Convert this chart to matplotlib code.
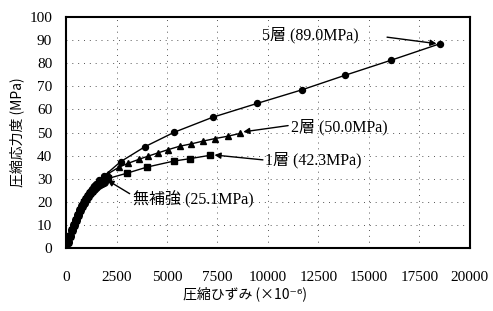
import matplotlib
matplotlib.use("Agg")
import matplotlib.pyplot as plt

plt.rcParams['font.family'] = ['Liberation Serif', 'Noto Sans CJK JP', 'DejaVu Serif']

# 無補強 (dense low-strain part)
plain_x = [0, 100, 200, 300, 400, 500, 600, 700, 800, 900, 1000, 1100, 1200, 1300,
           1400, 1500, 1600, 1700, 1800, 1900]
plain_y = [0, 2.7, 5.3, 7.8, 10.1, 12.3, 14.5, 16.4, 18.1, 19.7, 21.2, 22.5, 23.7, 24.8,
           25.8, 26.6, 27.3, 27.9, 28.4, 28.8]

# 1層
one_x = [0, 100, 200, 300, 400, 500, 600, 700, 800, 900, 1000, 1100, 1200, 1300,
         1400, 1500, 1600, 1800, 2100, 3000, 4020, 5350, 6120, 7150]
one_y = [0, 2.7, 5.3, 7.8, 10.1, 12.3, 14.5, 16.5, 18.2, 19.8, 21.3, 22.6, 23.8, 24.9,
         25.9, 26.8, 27.5, 28.8, 30.2, 32.4, 35.1, 37.7, 38.7, 40.2]

# 2層
two_x = [0, 100, 200, 300, 400, 500, 600, 700, 800, 900, 1000, 1100, 1200, 1300,
         1400, 1500, 1600, 1800, 2100, 2610, 3070, 3600, 4060, 4550, 5050, 5630,
         6200, 6780, 7380, 8000, 8610]
two_y = [0, 2.8, 5.4, 7.9, 10.2, 12.4, 14.6, 16.6, 18.4, 20.0, 21.5, 22.8, 24.1, 25.3,
         26.4, 27.4, 28.3, 30.0, 32.3, 35.0, 36.7, 38.4, 39.8, 41.2, 42.6, 44.1,
         45.1, 46.3, 47.4, 48.4, 49.6]

# 5層
five_x = [0, 100, 200, 300, 400, 500, 600, 700, 800, 900, 1000, 1100, 1200, 1300,
          1400, 1500, 1650, 1900, 2700, 3910, 5350, 7260, 9470, 11700, 13840, 16120, 18500]
five_y = [0, 2.8, 5.5, 8.0, 10.3, 12.6, 14.8, 16.8, 18.6, 20.3, 21.8, 23.2, 24.5, 25.7,
          26.8, 27.9, 29.4, 31.4, 37.4, 43.9, 50.1, 56.6, 62.6, 68.5, 74.8, 81.3, 88.3]

labels = ["5層 (89.0MPa)", "2層 (50.0MPa)", "1層 (42.3MPa)", "無補強 (25.1MPa)"]
label_xy = [(9700, 92.0), (11150, 52.3), (9850, 38.0), (3300, 21.0)]
arrow_tail = [(15900, 91.2), (11000, 53.0), (9750, 38.2), (3150, 23.6)]
arrow_head = [(18350, 88.4), (8780, 50.3), (7350, 40.3), (2050, 29.4)]

fig = plt.figure(figsize=(4.93, 3.11), dpi=100)
ax = fig.add_axes([0.134, 0.2016, 0.819, 0.7444])

ax.plot(plain_x, plain_y, color="black", lw=1.0, marker="o", ms=5.5)
ax.plot(one_x, one_y, color="black", lw=1.0, marker="s", ms=4.3)
ax.plot(two_x, two_y, color="black", lw=1.0, marker="^", ms=4.8)
ax.plot(five_x, five_y, color="black", lw=1.0, marker="o", ms=4.3)

for txt, pos, tail, head in zip(labels, label_xy, arrow_tail, arrow_head):
    ax.text(pos[0], pos[1], txt, fontsize=11.5, va="center", ha="left")
    ax.annotate("", xy=head, xytext=tail,
                arrowprops=dict(arrowstyle="-|>", color="black", lw=1.0,
                                mutation_scale=9, shrinkA=0, shrinkB=0))

ax.set_xlim(0, 20000)
ax.set_ylim(0, 100)
ax.set_xticks(range(0, 20001, 2500))
ax.set_yticks(range(0, 101, 10))
ax.grid(True, color="#555555", lw=0.7, linestyle=(0, (1, 5)))
ax.tick_params(direction="in", length=0, labelsize=11)
ax.tick_params(axis="x", pad=16)
ax.tick_params(axis="y", pad=10)
for s in ax.spines.values():
    s.set_linewidth(1.5)

sans = ['Noto Sans CJK JP', 'DejaVu Sans']
ax.set_xlabel("圧縮ひずみ (×10⁻⁶)", fontsize=10, family=sans)
ax.xaxis.set_label_coords(0.443, -0.165)
ax.set_ylabel("圧縮応力度 (MPa)", fontsize=10, family=sans, labelpad=4)

fig.savefig("out.png", dpi=100)
